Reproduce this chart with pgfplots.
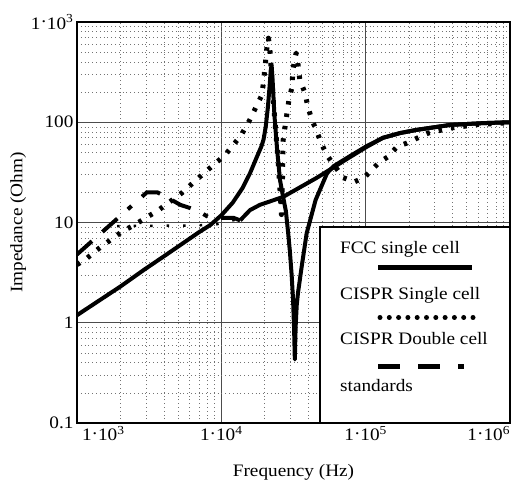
\documentclass[border=0pt]{standalone}
\usepackage{fontspec}
\setmainfont{Liberation Serif}[FakeStretch=1.1]
\usepackage{pgfplots}
\pgfplotsset{compat=1.18}

\newcommand{\chartfont}{\fontsize{17.5bp}{20bp}\selectfont}
\newcommand{\tenp}[1]{1\raisebox{0.15ex}{·}10\textsuperscript{#1}}

\begin{document}
\begin{tikzpicture}
\begin{axis}[
    at={(0,0)}, anchor=south west,
    scale only axis, width=433bp, height=401bp,
    xmode=log, ymode=log,
    xmin=1e3, xmax=1e6, ymin=0.1, ymax=1000,
    xtick={1e3,1e4,1e5,1e6},
    xticklabels={{\makebox[0pt][l]{\hspace{5bp}\tenp{3}}},\tenp{4},\tenp{5},{\makebox[0pt][r]{\tenp{6}}}},
    ytick={0.1,1,10,100,1000},
    yticklabels={0.1,1,10,100,\tenp{3}},
    minor xtick={2e3,3e3,4e3,5e3,6e3,7e3,8e3,9e3,2e4,3e4,4e4,5e4,6e4,7e4,8e4,9e4,2e5,3e5,4e5,5e5,6e5,7e5,8e5,9e5},
    minor ytick={0.2,0.3,0.4,0.5,0.6,0.7,0.8,0.9,2,3,4,5,6,7,8,9,20,30,40,50,60,70,80,90,200,300,400,500,600,700,800,900},
    grid=both,
    major grid style={gray!60!black, line width=1.1bp},
    minor grid style={black!55, line width=0.6bp, dash pattern=on 0.8bp off 3bp},
    major tick length=0pt, minor tick length=0pt,
    axis line style={line width=2.5bp},
    tick label style={font=\chartfont},
    label style={font=\chartfont},
    xlabel={Frequency (Hz)},
    ylabel={Impedance (Ohm)},
    xlabel style={at={(axis description cs:0.5,-0.122)}, anchor=center},
    ylabel style={at={(axis description cs:-0.136,0.5)}, anchor=center},
]
% FCC single cell
\addplot[black, line width=4bp, line join=round] coordinates {
    (1000,1.19) (1500,1.75) (2000,2.3) (2900,3.36) (4000,4.6) (5500,6.3)
    (7000,8.0) (8400,9.45) (10000,11.8) (12000,15.8) (14000,22) (15800,31)
    (17500,44) (19000,58) (19600,67) (20300,90) (21000,140) (21600,230)
    (22000,330) (22300,372) (22700,250) (23300,120) (24300,55) (25500,26.5)
    (26600,19) (28000,13) (29000,8) (29800,5.3) (30700,3) (31400,1.7)
    (31900,0.9) (32300,0.43) (32700,0.9) (33300,1.5) (34000,2) (36000,3.6)
    (39000,7.8) (45000,16.8) (54000,31) (60000,36.5) (78000,46) (102000,58)
    (132000,70) (173000,78) (226000,84) (385000,94) (650000,98) (1000000,100)
};
% CISPR Single cell
\addplot[black, line width=5bp, line join=round, dash pattern=on 3.5bp off 9bp] coordinates {
    (1000,3.8) (1170,4.4) (1440,5.6) (2050,8.1) (2480,9.4) (3700,13.4)
    (5340,19.8) (7350,29.9) (10600,47) (13700,74) (15600,103) (17100,135)
    (19100,187) (19600,254) (20100,358) (20500,487) (20900,640) (21200,690)
    (21700,530) (22800,178) (24300,57) (24800,39) (25500,21) (26100,12)
    (26500,25) (26800,66) (27600,89) (28500,123) (29400,167) (30900,225)
    (31300,332) (32500,450) (33000,490) (33500,450) (35000,264) (38000,196)
    (39800,142) (42400,106) (46000,80) (49900,59) (55000,45) (69800,28)
    (84000,25.5) (98600,28.4) (110000,33.5) (125000,40) (142000,45)
    (165000,57) (193000,62) (230000,70) (271000,78) (385000,87.5)
    (600000,95) (1000000,99)
};
% CISPR Double cell
\addplot[black, line width=4bp, dash pattern=on 20bp off 14bp on 20bp off 14bp on 5bp off 14bp] coordinates {
    (1000,4.8) (3050,20) (3600,20) (4300,17.5) (5200,15) (6100,13.9)
    (7200,12.6) (8400,11) (9300,11.1) (12200,11.1) (13500,10.5)
};
\addplot[black, line width=4bp, line join=round] coordinates {
    (13500,10.5) (15800,13.3) (18500,15) (26800,18) (46000,28) (59000,35)
    (78000,45) (102000,57) (132000,70) (173000,78) (226000,84) (385000,94)
    (650000,98) (1000000,100)
};
% standards
\addplot[black, line width=2.5bp, dash pattern=on 2.5bp off 14bp] coordinates {
    (1900,9.2) (4000,9.3) (6000,9.3) (9000,9.5) (13000,10.8)
};
\end{axis}

% legend
\draw[line width=2.5bp, fill=white] (243bp,0bp) rectangle (433bp,196bp);
\node[anchor=base west, font=\chartfont, inner sep=0pt] at (263bp,169.7bp) {FCC single cell};
\draw[line width=5bp] (301bp,155bp) -- (395bp,155bp);
\node[anchor=base west, font=\chartfont, inner sep=0pt] at (263bp,123bp) {CISPR Single cell};
\draw[line width=5bp, line cap=round, dash pattern=on 0bp off 9.3bp] (303bp,105.5bp) -- (398bp,105.5bp);
\node[anchor=base west, font=\chartfont, inner sep=0pt] at (263bp,78bp) {CISPR Double cell};
\draw[line width=5bp, dash pattern=on 22bp off 18bp on 22bp off 18bp on 6bp off 18bp] (301bp,56.5bp) -- (390bp,56.5bp);
\node[anchor=base west, font=\chartfont, inner sep=0pt] at (263bp,31.3bp) {standards};

\pgfresetboundingbox
\useasboundingbox (-77bp,-62bp) rectangle (434bp,423bp);
\end{tikzpicture}
\end{document}
